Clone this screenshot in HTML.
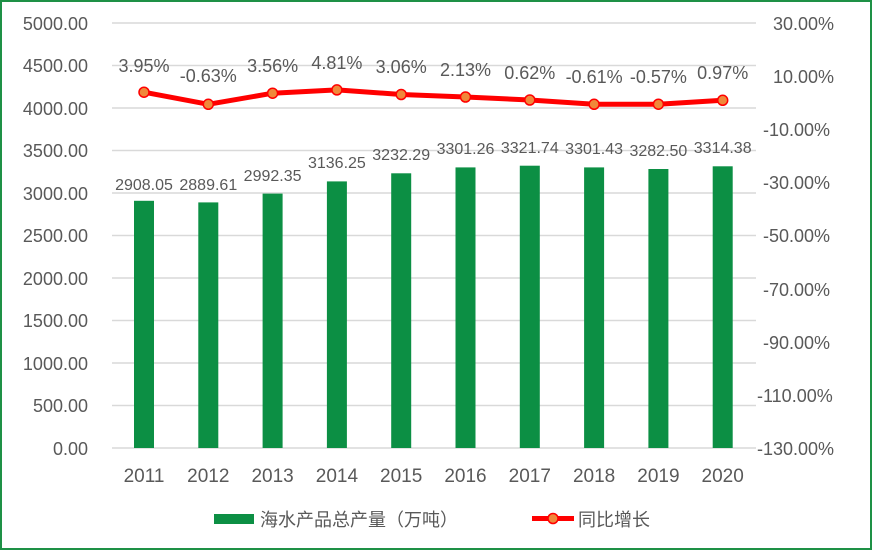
<!DOCTYPE html>
<html><head><meta charset="utf-8"><style>
html,body{margin:0;padding:0;background:#fff}
svg{display:block}
text{font-family:"Liberation Sans","Noto Sans CJK SC",sans-serif;fill:#595959}
</style></head><body>
<svg width="872" height="550" viewBox="0 0 872 550" xmlns="http://www.w3.org/2000/svg">
<rect x="1" y="1" width="870" height="548" fill="#fff" stroke="#1e9146" stroke-width="2"/>
<g stroke="#d9d9d9" stroke-width="1.5">
<line x1="112" x2="756" y1="23" y2="23"/><line x1="112" x2="756" y1="65.5" y2="65.5"/>
<line x1="112" x2="756" y1="108" y2="108"/><line x1="112" x2="756" y1="150.5" y2="150.5"/>
<line x1="112" x2="756" y1="193" y2="193"/><line x1="112" x2="756" y1="235.5" y2="235.5"/>
<line x1="112" x2="756" y1="278" y2="278"/><line x1="112" x2="756" y1="320.5" y2="320.5"/>
<line x1="112" x2="756" y1="363" y2="363"/><line x1="112" x2="756" y1="405.5" y2="405.5"/>
<line x1="112" x2="756" y1="448" y2="448"/>
</g>
<g font-size="18" text-anchor="end">
<text x="88" y="30">5000.00</text><text x="88" y="72">4500.00</text><text x="88" y="115">4000.00</text>
<text x="88" y="157">3500.00</text><text x="88" y="200">3000.00</text><text x="88" y="242">2500.00</text>
<text x="88" y="285">2000.00</text><text x="88" y="327">1500.00</text><text x="88" y="370">1000.00</text>
<text x="88" y="412">500.00</text><text x="88" y="455">0.00</text>
</g>
<g font-size="18">
<text x="773" y="30">30.00%</text><text x="773" y="83">10.00%</text><text x="763" y="136">-10.00%</text>
<text x="763" y="189">-30.00%</text><text x="763" y="242">-50.00%</text><text x="763" y="296">-70.00%</text>
<text x="763" y="349">-90.00%</text><text x="757" y="402">-110.00%</text><text x="757" y="455">-130.00%</text>
</g>
<g fill="#0c8f44">
<rect x="134" y="200.8" width="20" height="247.2"/>
<rect x="198.3" y="202.4" width="20" height="245.6"/>
<rect x="262.6" y="193.6" width="20" height="254.4"/>
<rect x="326.9" y="181.4" width="20" height="266.6"/>
<rect x="391.2" y="173.3" width="20" height="274.7"/>
<rect x="455.5" y="167.4" width="20" height="280.6"/>
<rect x="519.8" y="165.7" width="20" height="282.3"/>
<rect x="584.1" y="167.4" width="20" height="280.6"/>
<rect x="648.4" y="169.0" width="20" height="279"/>
<rect x="712.7" y="166.3" width="20" height="281.7"/>
</g>
<g font-size="16" text-anchor="middle">
<text x="144" y="190">2908.05</text><text x="208.3" y="190">2889.61</text><text x="272.6" y="181">2992.35</text>
<text x="336.9" y="168">3136.25</text><text x="401.2" y="160">3232.29</text><text x="465.5" y="154">3301.26</text>
<text x="529.8" y="153">3321.74</text><text x="594.1" y="154">3301.43</text><text x="658.4" y="156">3282.50</text>
<text x="722.7" y="153">3314.38</text>
</g>
<polyline fill="none" stroke="#f00" stroke-width="5" stroke-linejoin="round" points="144,92.2 208.3,104.3 272.6,93.2 336.9,89.9 401.2,94.5 465.5,97 529.8,100 594.1,104.3 658.4,104.2 722.7,100.3"/>
<g fill="#f0883a" stroke="#f00" stroke-width="1.5">
<circle cx="144" cy="92.2" r="5"/><circle cx="208.3" cy="104.3" r="5"/><circle cx="272.6" cy="93.2" r="5"/>
<circle cx="336.9" cy="89.9" r="5"/><circle cx="401.2" cy="94.5" r="5"/><circle cx="465.5" cy="97" r="5"/>
<circle cx="529.8" cy="100" r="5"/><circle cx="594.1" cy="104.3" r="5"/><circle cx="658.4" cy="104.2" r="5"/>
<circle cx="722.7" cy="100.3" r="5"/>
</g>
<g font-size="18" text-anchor="middle">
<text x="144" y="72">3.95%</text><text x="208.3" y="82">-0.63%</text><text x="272.6" y="72">3.56%</text>
<text x="336.9" y="69">4.81%</text><text x="401.2" y="73">3.06%</text><text x="465.5" y="76">2.13%</text>
<text x="529.8" y="79">0.62%</text><text x="594.1" y="83">-0.61%</text><text x="658.4" y="83">-0.57%</text>
<text x="722.7" y="79">0.97%</text>
</g>
<g font-size="19" text-anchor="middle">
<text x="144" y="482">2011</text><text x="208.3" y="482">2012</text><text x="272.6" y="482">2013</text>
<text x="336.9" y="482">2014</text><text x="401.2" y="482">2015</text><text x="465.5" y="482">2016</text>
<text x="529.8" y="482">2017</text><text x="594.1" y="482">2018</text><text x="658.4" y="482">2019</text>
<text x="722.7" y="482">2020</text>
</g>
<rect x="214" y="514" width="40" height="10" fill="#0c8f44"/>
<text x="260" y="526" font-size="18">海水产品总产量（万吨）</text>
<line x1="532" x2="574" y1="518.5" y2="518.5" stroke="#f00" stroke-width="5"/>
<circle cx="553" cy="518.5" r="5" fill="#f0883a" stroke="#f00" stroke-width="1.5"/>
<text x="578" y="526" font-size="18">同比增长</text>
</svg>
</body></html>
